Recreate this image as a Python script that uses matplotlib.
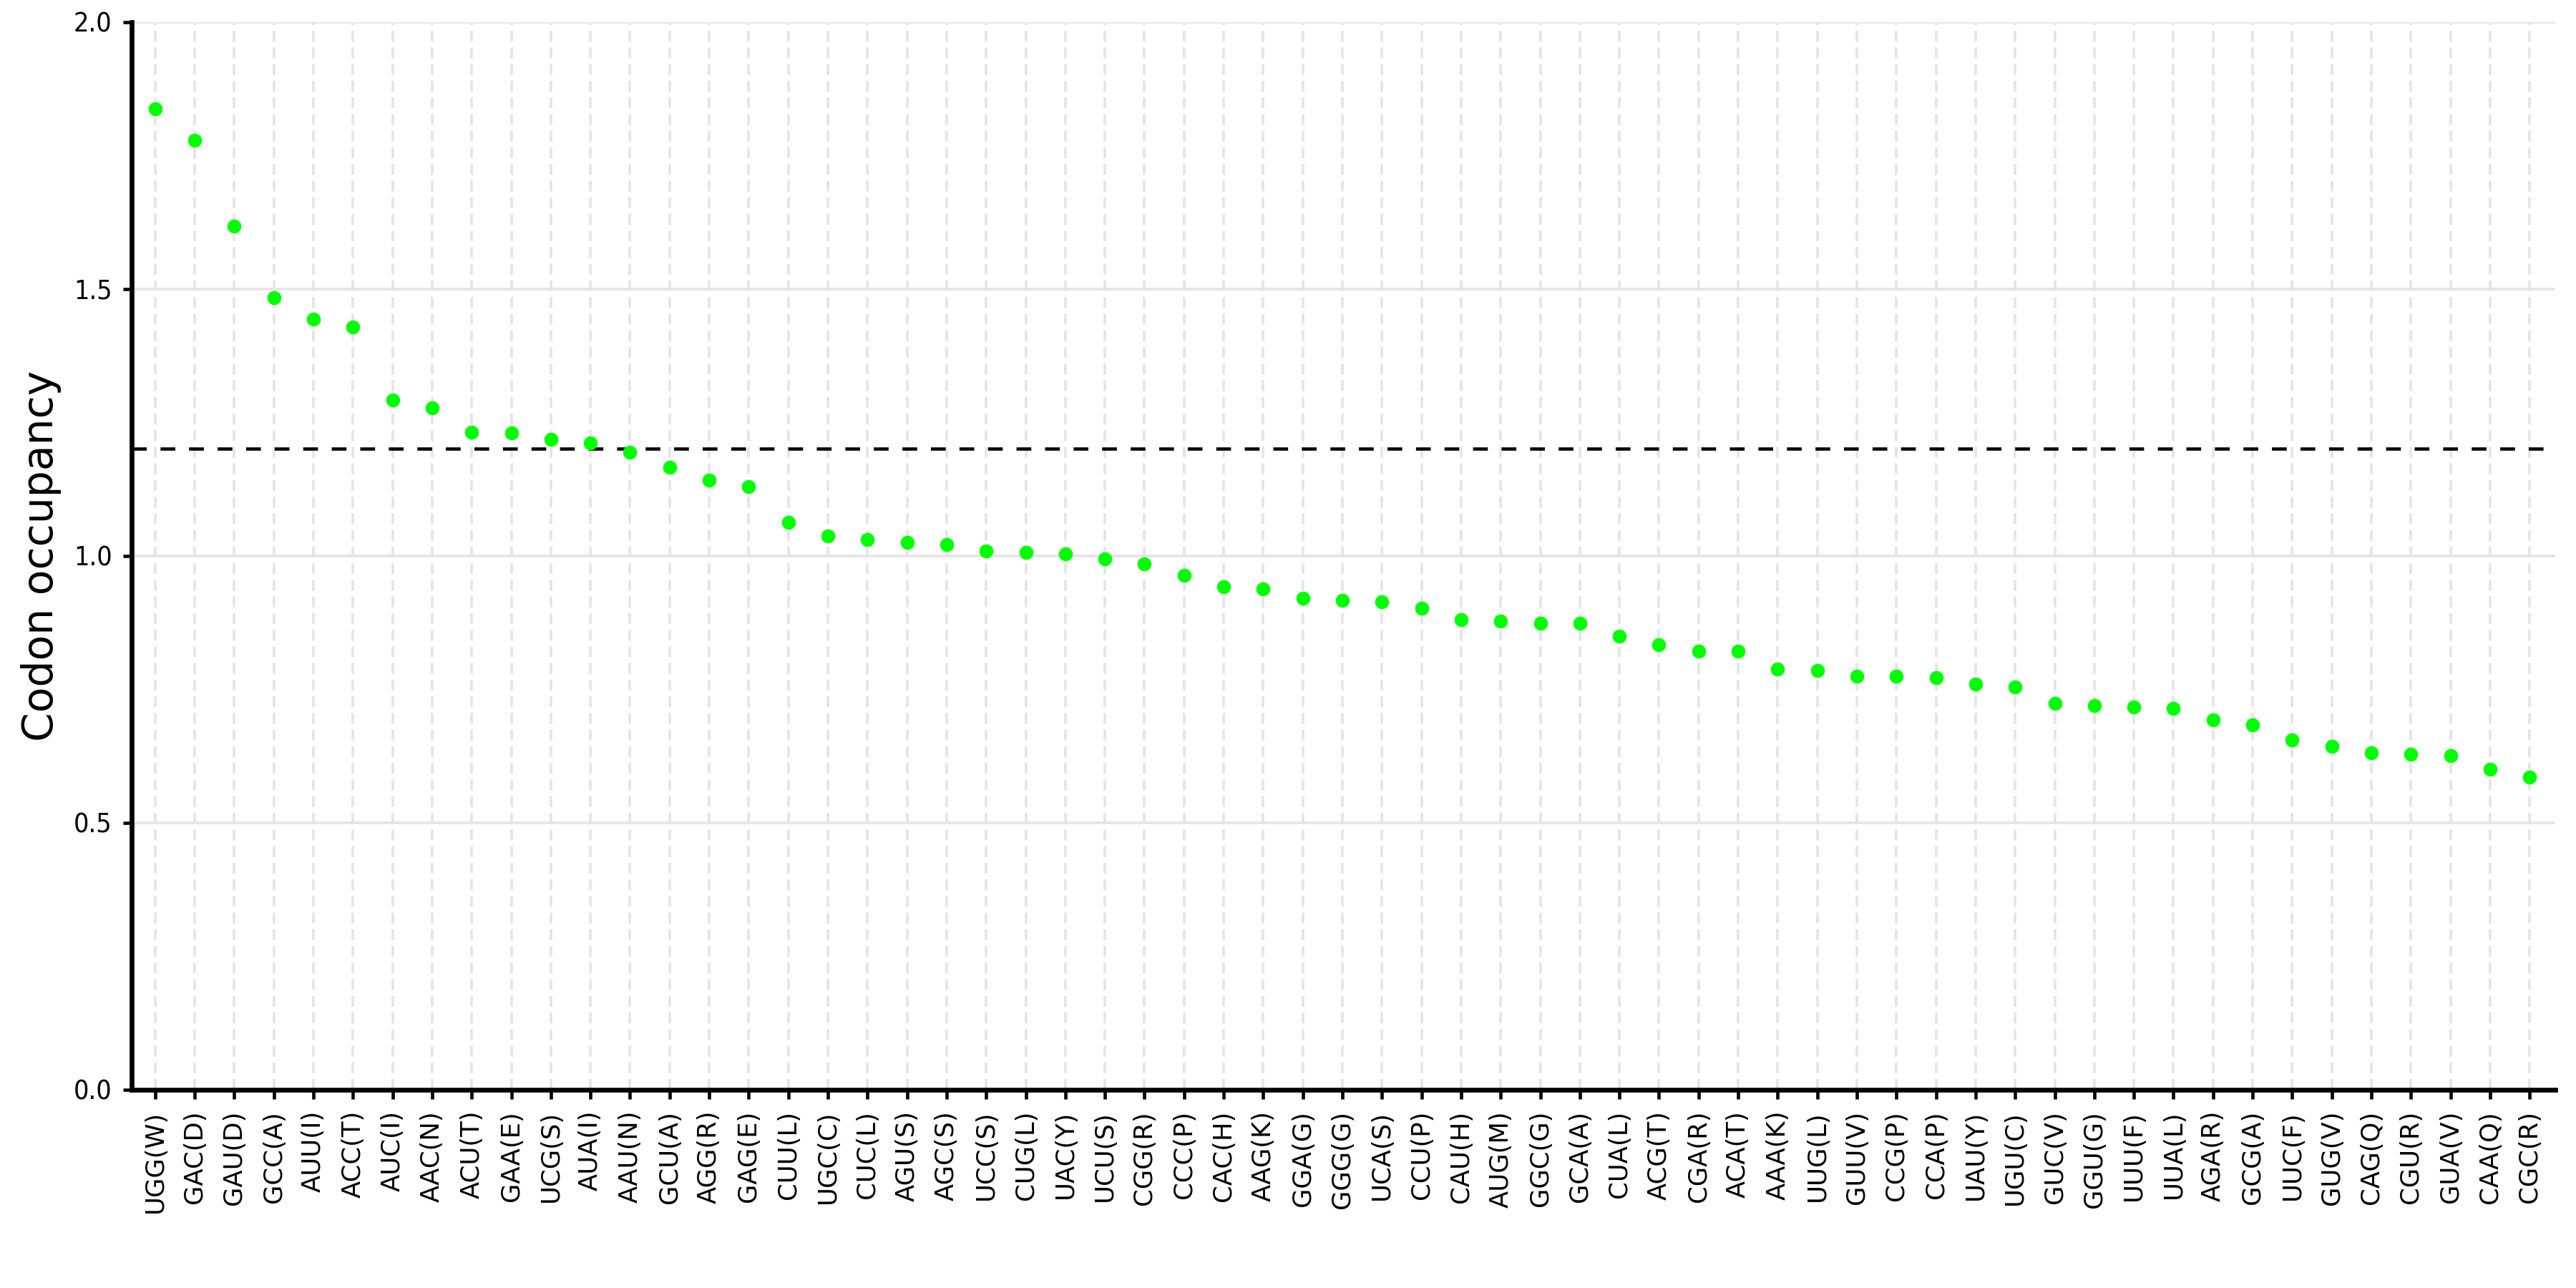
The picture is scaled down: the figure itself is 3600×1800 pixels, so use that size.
import numpy as np
import matplotlib
matplotlib.use("Agg")
import matplotlib.pyplot as plt

# codons sorted by occupancy
codons = ["UGG(W)", "GAC(D)", "GAU(D)", "GCC(A)", "AUU(I)", "ACC(T)", "AUC(I)", "AAC(N)",
          "ACU(T)", "GAA(E)", "UCG(S)", "AUA(I)", "AAU(N)", "GCU(A)", "AGG(R)", "GAG(E)",
          "CUU(L)", "UGC(C)", "CUC(L)", "AGU(S)", "AGC(S)", "UCC(S)", "CUG(L)", "UAC(Y)",
          "UCU(S)", "CGG(R)", "CCC(P)", "CAC(H)", "AAG(K)", "GGA(G)", "GGG(G)", "UCA(S)",
          "CCU(P)", "CAU(H)", "AUG(M)", "GGC(G)", "GCA(A)", "CUA(L)", "ACG(T)", "CGA(R)",
          "ACA(T)", "AAA(K)", "UUG(L)", "GUU(V)", "CCG(P)", "CCA(P)", "UAU(Y)", "UGU(C)",
          "GUC(V)", "GGU(G)", "UUU(F)", "UUA(L)", "AGA(R)", "GCG(A)", "UUC(F)", "GUG(V)",
          "CAG(Q)", "CGU(R)", "GUA(V)", "CAA(Q)", "CGC(R)"]

occupancy = [1.837, 1.778, 1.618, 1.483, 1.443, 1.428, 1.292, 1.277,
             1.231, 1.230, 1.218, 1.212, 1.194, 1.166, 1.142, 1.129,
             1.062, 1.037, 1.031, 1.025, 1.021, 1.009, 1.006, 1.003,
             0.994, 0.985, 0.963, 0.942, 0.938, 0.920, 0.917, 0.914,
             0.902, 0.880, 0.877, 0.874, 0.874, 0.849, 0.834, 0.822,
             0.822, 0.788, 0.785, 0.775, 0.775, 0.772, 0.760, 0.754,
             0.723, 0.720, 0.717, 0.714, 0.692, 0.683, 0.655, 0.643,
             0.631, 0.628, 0.625, 0.600, 0.585]

yticks = [0.0, 0.5, 1.0, 1.5, 2.0]
cutoff = 1.2

fig = plt.figure(figsize=(12, 6), dpi=300)
ax = fig.add_axes([0.051, 0.154, 0.941, 0.829])

x = np.arange(len(codons))
ax.scatter(x, occupancy, s=22, color="#00ff00", zorder=3, linewidths=0)
ax.axhline(cutoff, color="black", linestyle=(0, (4.5, 4.2)), linewidth=1.1, zorder=2)

ax.set_xticks(x)
ax.set_xticklabels(codons, rotation=90, fontsize=8.5)
ax.set_yticks(yticks)
ax.set_yticklabels(["%.1f" % v for v in yticks], fontsize=9, fontstretch="condensed")
ax.set_ylim(0, 2.0)
ax.set_xlim(-0.6, len(codons) - 0.35)
ax.set_ylabel("Codon occupancy", fontsize=14, labelpad=4)

ax.grid(axis="y", color="#e5e5e5", linewidth=0.9)
ax.grid(axis="x", color="#e5e5e5", linewidth=0.9, linestyle=(0, (4, 2.2)))
ax.set_axisbelow(True)

for s in ["top", "right"]:
    ax.spines[s].set_visible(False)
for s in ["left", "bottom"]:
    ax.spines[s].set_linewidth(1.6)
ax.tick_params(axis="both", width=1.1, length=3, colors="black")
ax.tick_params(axis="x", pad=4)

fig.savefig("out.png", dpi=300)
